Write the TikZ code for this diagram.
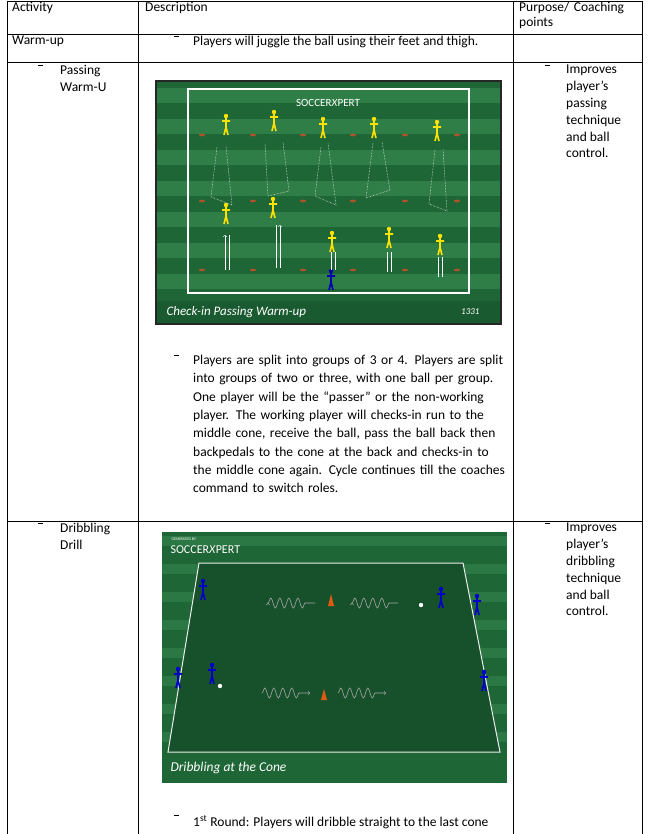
\documentclass[tikz,border=0pt]{standalone}
\usepackage{fontspec}
\setmainfont{Carlito}
\usetikzlibrary{decorations.pathmorphing,arrows}
\definecolor{fieldlight}{HTML}{2F7D47}
\definecolor{fielddark}{HTML}{1E6636}
\definecolor{pitch}{HTML}{1A5A30}
\definecolor{conebrown}{HTML}{B0522A}
\definecolor{coneorange}{HTML}{E05A10}
\newcommand{\dashmark}{\rule[4pt]{5pt}{0.8pt}}
\tikzset{
  rule/.style={line width=0.6pt,black},
  cell/.style={anchor=north west,inner sep=0pt,font=\fontsize{13.5}{16.8}\selectfont,align=left},
  bullet/.style={anchor=north west,inner sep=0pt,font=\fontsize{13.5}{16.8}\selectfont},
  marker/.style={fill=conebrown,draw=none},
  trail/.style={white,densely dotted,line width=0.5pt},
  squiggle/.style={gray!70,line width=0.6pt,decorate,decoration={snake,amplitude=5pt,segment length=9pt,post length=7pt}},
  player/.pic={
    \fill[#1] (0,-11) circle (2.2);
    \draw[#1,line width=1.6pt] (0,-9) -- (0,0) (-4,-6) -- (4,-6) (0,0) -- (-2,8) (0,0) -- (2,8);
  }
}
\begin{document}
\begin{tikzpicture}[x=1pt,y=-1pt]
\useasboundingbox (0,0) rectangle (650,834);
% table grid
\draw[rule] (7,1) -- (642,1) (7,34) -- (642,34) (7,62) -- (642,62) (7,521) -- (642,521);
\draw[rule] (7,1) -- (7,834) (138,1) -- (138,834) (513,1) -- (513,834) (642,1) -- (642,834);
% header
\node[cell] (hact) at (12,2) {Activity};
\node[cell] (hdesc) at (145,2) {Description};
\node[cell,text width=120pt] (hpurp) at (519,2) {Purpose/ Coaching\\[-2pt]points};
% warm-up row
\node[cell] (warm) at (12,36) {Warm-up};
\node[bullet] (d1) at (174,36) {\dashmark};
\node[cell] (juggle) at (193,36) {Players will juggle the ball using their feet and thigh.};
% passing row
\node[bullet] (d2) at (38,65) {\dashmark};
\node[cell] (pass) at (60,65) {Passing\\Warm-U};
\node[bullet] (d3) at (545,65) {\dashmark};
\node[cell] (ppurp) at (566,65) {Improves\\player’s\\passing\\technique\\and ball\\control.};
% passing image
\fill[black!85] (155,80) rectangle (502,325);
\foreach \y in {0,1,...,6}
  \fill[fieldlight] (157,{88+\y*31}) rectangle (500,{103+\y*31});
\foreach \y in {0,1,...,6}
  \fill[fielddark] (157,{103+\y*31}) rectangle (500,{119+\y*31});
\fill[fielddark] (157,82) rectangle (500,88);
\fill[pitch] (157,301) rectangle (500,323);
\draw[white,line width=1.8pt] (188,89) rectangle (469,293);
\node[font=\fontsize{11}{11}\selectfont,white] (logo1) at (328,103) {SOCCER\textit{X}PERT};
\foreach \x in {202,253,303,353,405,457}{
  \fill[marker] (\x,135) ellipse (3 and 1.3);
  \fill[marker] (\x,201) ellipse (3 and 1.3);
  \fill[marker] (\x,270) ellipse (3 and 1.3);
}
\foreach \x/\y in {226/127,274/123,323/130,374/130,437/133,226/216,273/210,332/244,389/240,440/247}
  \pic at (\x,\y) {player=yellow!85!orange};
\pic at (331,282) {player=blue!70!black};
\draw[trail] (217,147) -- (211,197) -- (232,205) -- (226,146);
\draw[trail] (265,144) -- (268,196) -- (289,191) -- (283,142);
\draw[trail] (321,147) -- (315,196) -- (336,205) -- (328,143);
\draw[trail] (373,143) -- (366,198) -- (390,190) -- (382,142);
\draw[trail] (435,150) -- (429,204) -- (447,211) -- (443,149);
\draw[white,line width=0.5pt,->] (225,270) -- (225,235);
\draw[white,line width=0.5pt] (229,235) -- (229,270);
\draw[white,line width=0.5pt,->] (280,268) -- (280,225);
\draw[white,line width=0.5pt] (276,225) -- (276,268);
\draw[white,line width=0.5pt] (331,252) -- (331,270) (335,252) -- (335,270);
\draw[white,line width=0.5pt] (387,252) -- (387,272) (391,252) -- (391,272);
\draw[white,line width=0.5pt] (438,257) -- (438,277) (442,257) -- (442,277);
\node[anchor=west,font=\itshape\fontsize{13}{13}\selectfont,white] (cap1) at (163,312) {Check-in Passing Warm-up};
\node[anchor=east,font=\itshape\fontsize{9}{9}\selectfont,white] (num1) at (483,312) {1331};
% passing description
\node[bullet] (d4) at (174,355) {\dashmark};
\node[cell,text width=315pt,font=\fontsize{13.5}{18.3}\selectfont] (pdesc) at (193,355) {Players are split into groups of 3 or 4. Players are split into groups of two or three, with one ball per group. One player will be the “passer” or the non-working player. The working player will checks-in run to the middle cone, receive the ball, pass the ball back then backpedals to the cone at the back and checks-in to the middle cone again. Cycle continues till the coaches command to switch roles.};
% dribbling row
\node[bullet] (d5) at (38,523) {\dashmark};
\node[cell] (drib) at (60,523) {Dribbling\\Drill};
\node[bullet] (d6) at (545,523) {\dashmark};
\node[cell] (dpurp) at (566,523) {Improves\\player’s\\dribbling\\technique\\and ball\\control.};
% dribbling image
\fill[fielddark] (162,532) rectangle (507,783);
\foreach \y in {0,1,...,7}
  \fill[fieldlight!80!fielddark] (162,{536+\y*28}) rectangle (507,{546+\y*28});
\fill[pitch!90!black] (199,563) -- (463,563) -- (500,752) -- (168,752) -- cycle;
\draw[white!85!gray,line width=1pt] (199,563) -- (463,563) -- (500,752) -- (168,752) -- cycle;
\node[anchor=west,font=\fontsize{4}{4}\selectfont,white] (gen) at (168,539) {GENERATED BY};
\node[anchor=west,font=\fontsize{12}{12}\selectfont,white] (logo2) at (167,550) {SOCCER\textit{X}PERT};
\fill[coneorange] (328,606) -- (331,594) -- (334,606) -- cycle;
\fill[coneorange] (321,700) -- (324,689) -- (327,700) -- cycle;
\draw[squiggle,<-] (268,603) -- (315,603);
\draw[squiggle,<-] (352,603) -- (398,603);
\draw[squiggle,->] (262,693) -- (310,693);
\draw[squiggle,->] (338,693) -- (386,693);
\foreach \x/\y in {203/592,441/600,477/607,178/680,212/676,484/683}
  \pic at (\x,\y) {player=blue!80!black};
\fill[white] (421,605) circle (2.2) (220,686) circle (2.2);
\node[anchor=west,font=\itshape\fontsize{13.5}{13.5}\selectfont,white] (cap2) at (167,768) {Dribbling at the Cone};
% last line
\node[bullet] (d7) at (174,815) {\dashmark};
\node[cell] (round) at (193,815) {1\textsuperscript{st} Round: Players will dribble straight to the last cone};
\end{tikzpicture}
\end{document}
